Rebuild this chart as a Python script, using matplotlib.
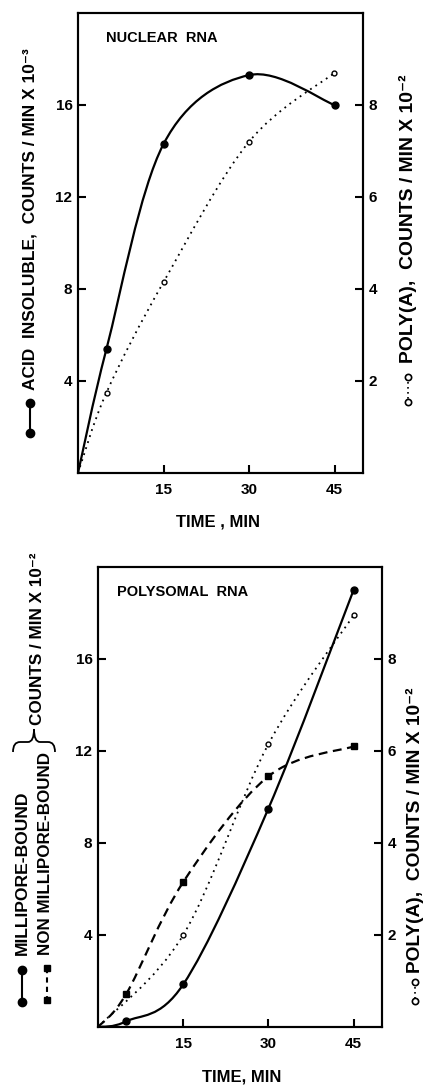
import numpy as np
import matplotlib.pyplot as plt
from matplotlib.path import Path
from matplotlib.patches import PathPatch
from matplotlib.lines import Line2D

plt.rcParams['font.family'] = ['Liberation Sans', 'DejaVu Sans']
plt.rcParams['font.weight'] = 'bold'

# nuclear RNA (time in min)
nuc_time = [0, 5, 15, 30, 45]
nuc_acid = [0, 5.4, 14.3, 17.3, 16.0]      # counts/min x 10^-3
nuc_polya = [0, 1.75, 4.15, 7.2, 8.7]      # counts/min x 10^-2

# polysomal RNA
pol_time = [0, 5, 15, 30, 45]
pol_milli = [0, 0.25, 1.85, 9.5, 19.0]     # counts/min x 10^-2
pol_nonmilli = [0, 1.45, 6.3, 10.9, 12.2]
pol_polya_time = [0, 15, 30, 45]
pol_polya = [0, 2.0, 6.15, 8.95]

x_ticks = [15, 30, 45]
left_ticks = [4, 8, 12, 16]
right_ticks = [2, 4, 6, 8]

W, H = 423, 1087


def curve(ax, x, y, **kw):
    # smooth line through the points (Catmull-Rom as bezier)
    pts = np.column_stack([x, y]).astype(float)
    ext = np.vstack([pts[0], pts, pts[-1]])
    verts = [pts[0]]
    codes = [Path.MOVETO]
    for i in range(len(pts) - 1):
        p0, p1, p2, p3 = ext[i], ext[i + 1], ext[i + 2], ext[i + 3]
        verts += [p1 + (p2 - p0) / 6, p2 - (p3 - p1) / 6, p2]
        codes += [Path.CURVE4] * 3
    ax.add_patch(PathPatch(Path(verts, codes), fill=False, **kw))


def style(ax, ax2):
    ax.set_xlim(0, 50)
    ax.set_ylim(0, 20)
    ax2.set_ylim(0, 10)
    ax.set_xticks(x_ticks)
    ax.set_yticks(left_ticks)
    ax2.set_yticks(right_ticks)
    for a in (ax, ax2):
        for s in a.spines.values():
            s.set_linewidth(1.5)
        a.tick_params(direction='in', length=6, width=1.5, labelsize=11)
    ax.tick_params(axis='x', pad=7)
    ax.tick_params(axis='y', pad=4)
    ax2.tick_params(axis='y', pad=4)


def fx(px):
    return px / W


def fy(py):
    return 1 - py / H


fig = plt.figure(figsize=(W / 100, H / 100), dpi=100)
renderer = fig.canvas.get_renderer()


def vtext(x, y_top, y_bot, s):
    # vertical label stretched to the span it has in the original
    t = fig.text(fx(x), fy(y_bot), s, rotation=90, ha='center', va='bottom', fontsize=12)
    h = t.get_window_extent(renderer).height
    t.set_fontsize(12 * (y_bot - y_top) / h)


def key(x, y1, y2, **kw):
    # little vertical line-with-markers next to the axis labels
    fig.add_artist(Line2D([fx(x), fx(x)], [fy(y1), fy(y2)],
                          transform=fig.transFigure, color='black', **kw))


# ---- nuclear RNA
ax1 = fig.add_axes([fx(78), fy(473), (363 - 78) / W, (473 - 13) / H])
ax1b = ax1.twinx()
style(ax1, ax1b)
curve(ax1, nuc_time, nuc_acid, color='black', lw=1.6)
ax1.plot(nuc_time[1:], nuc_acid[1:], 'o', color='black', ms=5)
curve(ax1b, nuc_time, nuc_polya, color='black', lw=1.3, linestyle=(0, (1, 2.5)))
ax1b.plot(nuc_time[1:], nuc_polya[1:], 'o', mfc='white', mec='black', ms=3.5, mew=1)
ax1.text(0.10, 0.945, 'NUCLEAR  RNA', transform=ax1.transAxes, fontsize=10.5,
         ha='left', va='center')
fig.text(fx(218), fy(522), 'TIME , MIN', fontsize=12, ha='center', va='center')
vtext(30, 50, 390, 'ACID  INSOLUBLE,  COUNTS / MIN X 10⁻³')
key(30, 403, 433, lw=1.5, marker='o', ms=6)
vtext(408, 75, 363, 'POLY(A),  COUNTS / MIN X 10⁻²')
key(408, 377, 402, lw=1.2, ls=(0, (1, 2)), marker='o', ms=4.5, mfc='white', mew=1.2)

# ---- polysomal RNA
ax2 = fig.add_axes([fx(98), fy(1027), (382 - 98) / W, (1027 - 567) / H])
ax2b = ax2.twinx()
style(ax2, ax2b)
curve(ax2, pol_time, pol_milli, color='black', lw=1.6)
ax2.plot(pol_time[1:], pol_milli[1:], 'o', color='black', ms=5)
curve(ax2, pol_time, pol_nonmilli, color='black', lw=1.6, linestyle=(0, (4, 2.5)))
ax2.plot(pol_time[1:], pol_nonmilli[1:], 's', color='black', ms=5)
curve(ax2b, pol_polya_time, pol_polya, color='black', lw=1.3, linestyle=(0, (1, 2.5)))
ax2b.plot(pol_polya_time[1:], pol_polya[1:], 'o', mfc='white', mec='black', ms=3.5, mew=1)
ax2.text(0.067, 0.945, 'POLYSOMAL  RNA', transform=ax2.transAxes, fontsize=10.5,
         ha='left', va='center')
fig.text(fx(242), fy(1077), 'TIME, MIN', fontsize=12, ha='center', va='center')
vtext(22, 790, 955, 'MILLIPORE-BOUND')
key(22, 970, 1002, lw=1.5, marker='o', ms=6)
vtext(46, 753, 955, 'NON MILLIPORE-BOUND')
key(47, 968, 1000, lw=1.5, ls=(0, (2.5, 2)), marker='s', ms=5)
vtext(38, 553, 725, 'COUNTS / MIN X 10⁻²')
vtext(415, 687, 973, 'POLY(A),  COUNTS / MIN X 10⁻²')
key(415, 982, 1001, lw=1.2, ls=(0, (1, 2)), marker='o', ms=4.5, mfc='white', mew=1.2)

# curly brace joining the two bottom-left labels
bx = [13, 13, 20, 28, 34, 34, 34, 40, 48, 55, 55]
by = [752, 742, 742, 742, 742, 729, 742, 742, 742, 742, 752]
bcodes = [Path.MOVETO, Path.CURVE3, Path.CURVE3, Path.LINETO, Path.CURVE3, Path.CURVE3,
          Path.CURVE3, Path.CURVE3, Path.LINETO, Path.CURVE3, Path.CURVE3]
brace = Path(np.column_stack([[fx(v) for v in bx], [fy(v) for v in by]]), bcodes)
fig.add_artist(PathPatch(brace, transform=fig.transFigure, fill=False, lw=1.3, color='black'))

fig.savefig('out.png', dpi=100)
